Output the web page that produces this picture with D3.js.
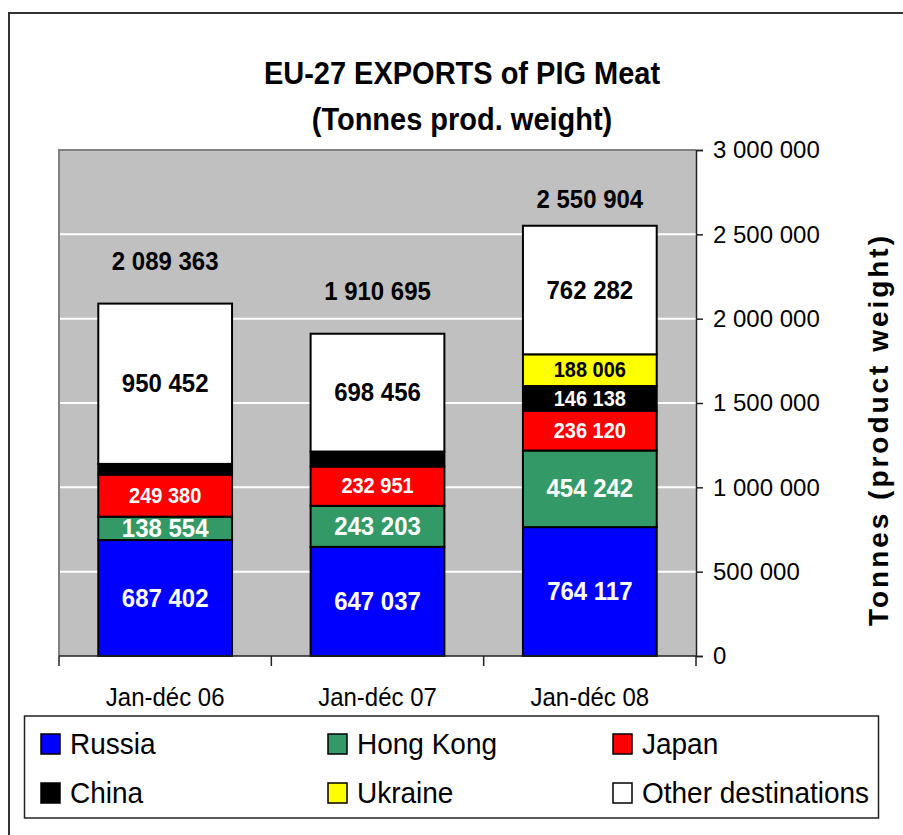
<!DOCTYPE html>
<html>
<head>
<meta charset="utf-8">
<script src="https://cdn.jsdelivr.net/npm/d3@7"></script>
<style>
  body { margin: 0; background: #fff; }
  svg text { font-family: "Liberation Sans", Arial, sans-serif; }
</style>
</head>
<body>
<div id="vis"></div>
<script>
// values
const years = ['Jan-déc 06', 'Jan-déc 07', 'Jan-déc 08']
const seriesNames = ['Russia', 'Hong Kong', 'Japan', 'China', 'Ukraine', 'Other destinations']
const russia = [687402, 647037, 764117]
const hongKong = [138554, 243203, 454242]
const japan = [249380, 232951, 236120]
const china = [63575, 89048, 146138]
const ukraine = [0, 0, 188006]
const other = [950452, 698456, 762282]
const totals = [2089363, 1910695, 2550904]
const yTicks = [0, 500000, 1000000, 1500000, 2000000, 2500000, 3000000]

const colors = ['#0000FF', '#339966', '#FF0000', '#000000', '#FFFF00', '#FFFFFF']
const labelColors = ['#fff', '#fff', '#fff', '#fff', '#000', '#000']
const labelSizes = [24, 24, 20, 20, 20, 24]

const W = 903, H = 835
const plot = {left: 59, right: 696, top: 150, bottom: 656}
const stretch = 1.08

const fmt = d3.formatLocale({decimal: ',', thousands: ' ', grouping: [3], currency: ['', '']}).format(',d')

// build the table d3.stack needs
const seriesValues = [russia, hongKong, japan, china, ukraine, other]
const table = years.map((y, i) => {
    let row = {year: y}
    seriesNames.forEach((s, j) => row[s] = seriesValues[j][i])
    return row
})
const stacked = d3.stack().keys(seriesNames)(table)

const x = d3.scaleBand()
    .domain(years)
    .range([plot.left, plot.right])
    .paddingInner(0.37)
    .paddingOuter(0.185)

const y = d3.scaleLinear()
    .domain([0, 3000000])
    .range([plot.bottom, plot.top])

const svg = d3.select('#vis').append('svg')
    .attr('width', W)
    .attr('height', H)

// text helper, slightly taller glyphs like the original
function txt(g, px, py, str, opts) {
    opts = opts || {}
    return g.append('text')
        .attr('transform', `translate(${px},${py}) scale(1,${opts.sy || stretch})`)
        .attr('text-anchor', opts.anchor || 'middle')
        .attr('font-size', opts.size || 24)
        .attr('font-weight', opts.bold ? 'bold' : 'normal')
        .attr('fill', opts.fill || '#000')
        .text(str)
}

// outer frame (cut at right and bottom)
svg.append('rect')
    .attr('x', 9).attr('y', 13)
    .attr('width', 1000).attr('height', 1000)
    .attr('fill', 'none')
    .attr('stroke', '#333')
    .attr('stroke-width', 2)

// title
txt(svg, 462, 84, 'EU-27 EXPORTS of PIG Meat', {size: 29, bold: true, sy: 1.05})
txt(svg, 462, 130, '(Tonnes prod. weight)', {size: 29, bold: true, sy: 1.05})

// plot area
svg.append('rect')
    .attr('x', plot.left).attr('y', plot.top)
    .attr('width', plot.right - plot.left)
    .attr('height', plot.bottom - plot.top)
    .attr('fill', '#C0C0C0')
svg.append('path')
    .attr('d', `M${plot.left},${plot.bottom}V${plot.top}H${plot.right}`)
    .attr('fill', 'none')
    .attr('stroke', '#808080')
    .attr('stroke-width', 2)

// gridlines
svg.append('g').selectAll('line')
    .data(yTicks.filter(d => d > 0 && d < 3000000))
    .join('line')
    .attr('x1', plot.left + 1).attr('x2', plot.right)
    .attr('y1', d => y(d)).attr('y2', d => y(d))
    .attr('stroke', '#fff')
    .attr('stroke-width', 2)

// right value axis
let yAxis = d3.axisRight(y)
    .tickValues(yTicks)
    .tickSize(7)
    .tickPadding(10)
    .tickFormat(fmt)
let yAxisG = svg.append('g')
    .attr('transform', `translate(${plot.right},0)`)
    .call(yAxis)
yAxisG.select('.domain').attr('stroke', '#222').attr('stroke-width', 1.5)
yAxisG.selectAll('.tick line').attr('stroke', '#222').attr('stroke-width', 1.5)
yAxisG.selectAll('.tick text')
    .attr('font-size', 24)
    .attr('font-family', '"Liberation Sans", Arial, sans-serif')
    .attr('fill', '#000')

// bars
const layers = svg.append('g').selectAll('g')
    .data(stacked)
    .join('g')
    .attr('fill', (d, i) => colors[i])

layers.selectAll('rect')
    .data(d => d)
    .join('rect')
    .filter(d => d[1] > d[0])
    .attr('x', d => x(d.data.year))
    .attr('width', x.bandwidth())
    .attr('y', d => y(d[1]))
    .attr('height', d => y(d[0]) - y(d[1]))
    .attr('stroke', '#000')
    .attr('stroke-width', 2)

// bottom category axis
svg.append('line')
    .attr('x1', plot.left).attr('x2', plot.right)
    .attr('y1', plot.bottom).attr('y2', plot.bottom)
    .attr('stroke', '#222').attr('stroke-width', 1.5)
const step = x.step()
svg.append('g').selectAll('line')
    .data(d3.range(years.length + 1))
    .join('line')
    .attr('x1', i => plot.left + i * step).attr('x2', i => plot.left + i * step)
    .attr('y1', plot.bottom).attr('y2', plot.bottom + 10)
    .attr('stroke', '#222').attr('stroke-width', 1.5)
years.forEach(yr => txt(svg, x(yr) + x.bandwidth() / 2, 706, yr, {size: 24}))

// segment labels
const labels = svg.append('g')
stacked.forEach((layer, i) => {
    layer.forEach(d => {
        const h = y(d[0]) - y(d[1])
        if (h < 20) return
        const cy = (y(d[0]) + y(d[1])) / 2
        txt(labels, x(d.data.year) + x.bandwidth() / 2, cy + labelSizes[i] * 0.36,
            fmt(d[1] - d[0]), {size: labelSizes[i], bold: true, fill: labelColors[i]})
    })
})

// totals above the bars, kept inside the plot area
totals.forEach((t, i) => {
    const by = Math.max(y(t) - 34, plot.top + 58)
    txt(labels, x(years[i]) + x.bandwidth() / 2, by, fmt(t), {size: 24, bold: true})
})

// value axis title
svg.append('text')
    .attr('transform', 'translate(888,431) rotate(-90)')
    .attr('text-anchor', 'middle')
    .attr('font-size', 28)
    .attr('font-weight', 'bold')
    .attr('textLength', 390)
    .attr('lengthAdjust', 'spacing')
    .text('Tonnes (product weight)')

// legend
const legend = svg.append('g')
legend.append('rect')
    .attr('x', 24.5).attr('y', 716)
    .attr('width', 854).attr('height', 102)
    .attr('fill', '#fff')
    .attr('stroke', '#222')
    .attr('stroke-width', 1.5)
const colX = [41, 328, 613]
const rowY = [734, 783]
seriesNames.forEach((s, i) => {
    const lx = colX[i % 3], ly = rowY[Math.floor(i / 3)]
    legend.append('rect')
        .attr('x', lx).attr('y', ly)
        .attr('width', 19).attr('height', 20)
        .attr('fill', colors[i])
        .attr('stroke', '#000')
        .attr('stroke-width', 1.5)
    txt(legend, lx + 29, ly + 20, s, {size: 28, anchor: 'start', sy: 1.04})
})
</script>
</body>
</html>
